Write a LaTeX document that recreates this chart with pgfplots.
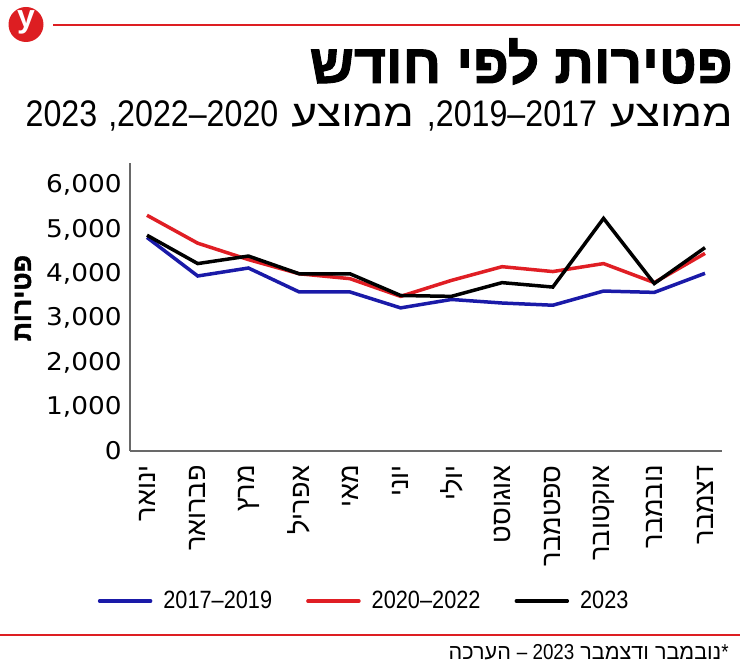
\documentclass[border=0pt]{standalone}
\usepackage{pgfplots}
\pgfplotsset{compat=1.18}
\usepackage{pgfplotstable}
\usepackage{fontspec}
\setmainfont{Liberation Sans}
\TeXXeTstate=1
\newfontfamily\heb[Script=Hebrew, BoldFeatures={FakeBold=1.8}]{Liberation Sans}
\newfontfamily\hebw[Script=Hebrew, FakeStretch=1.2]{Liberation Sans}
\newfontfamily\latn[FakeStretch=0.87]{Liberation Sans}
\newfontfamily\ticks[FakeStretch=1.08]{DejaVu Sans}
\definecolor{lineblue}{RGB}{26,26,168}
\definecolor{linered}{RGB}{224,30,36}
\definecolor{ynet}{RGB}{221,30,34}
\definecolor{axisgray}{RGB}{105,105,105}
\newcommand\rtl[1]{\beginR #1\endR}

% monthly deaths: 2017-2019 avg, 2020-2022 avg, 2023
\pgfplotstableread{
month avgA avgB yr
0  4820 5320 4870
1  3950 4690 4230
2  4130 4320 4400
3  3590 4000 4000
4  3590 3890 4000
5  3230 3490 3510
6  3420 3850 3490
7  3340 4160 3800
8  3290 4050 3700
9  3610 4230 5250
10 3580 3800 3780
11 4010 4460 4590
}\deaths

\begin{document}
\begin{tikzpicture}
\begin{scope}[x=0.5pt,y=-0.5pt]
\path[use as bounding box, fill=white] (0,0) rectangle (740,672);
\fill[ynet] (26,24.5) circle[radius=17.5];
\node[text=white, font=\fontsize{16}{16}\selectfont\bfseries, inner sep=0pt] at (26,22.5) {y};
\draw[ynet, line width=1pt] (53,25) -- (740,25);
\node[anchor=base east, inner sep=0pt, font=\heb\bfseries\fontsize{27.5}{30}\selectfont] at (733,83) {\rtl{פטירות לפי חודש}};
\node[anchor=base east, inner sep=0pt, font=\fontsize{18.5}{20}\selectfont] at (733,126.7)
  {{\latn 2023\hspace{5.5pt},2022–2020}\hspace{6.5pt}{\hebw\rtl{ממוצע}}\hspace{6.5pt}{\latn ,2019–2017}\hspace{6.5pt}{\hebw\rtl{ממוצע}}};
\draw[ynet, line width=1pt] (0,635) -- (740,635);
\node[anchor=base east, inner sep=0pt, font=\fontsize{10.8}{12}\selectfont] at (729,660)
  {{\heb\rtl{הערכה}} {\latn – 2023} {\heb\rtl{ודצמבר}} {\heb\rtl{נובמבר}}{\latn *}};
\end{scope}

\begin{axis}[
  at={(65pt,-225.5pt)}, anchor=south west,
  scale only axis, width=296pt, height=144pt,
  xmin=-0.335, xmax=11.335, ymin=0, ymax=6500,
  axis lines*=left,
  axis line style={draw=axisgray, line width=0.6pt},
  major tick length=0pt,
  xtick={0,...,11},
  xticklabels={\rtl{ינואר},\rtl{פברואר},\rtl{מרץ},\rtl{אפריל},\rtl{מאי},\rtl{יוני},\rtl{יולי},\rtl{אוגוסט},\rtl{ספטמבר},\rtl{אוקטובר},\rtl{נובמבר},\rtl{דצמבר}},
  xticklabel style={rotate=90, anchor=east, inner sep=0pt, font=\heb\fontsize{13.5}{14}\selectfont},
  xticklabel shift=7pt,
  ytick={0,1000,...,6000},
  yticklabel style={inner sep=0pt, font=\ticks\fontsize{12.2}{13}\selectfont,
    /pgf/number format/assume math mode=true, /pgf/number format/1000 sep={,}},
  yticklabel shift=4pt,
  ylabel={\rtl{פטירות}},
  ylabel style={at={(axis description cs:-0.181,0.531)}, anchor=center,
    font=\heb\bfseries\fontsize{13.3}{14}\selectfont},
  every axis plot/.append style={line width=1.75pt},
  legend columns=3,
  legend style={at={(axis description cs:-0.055,-0.521)}, anchor=west, draw=none, fill=none,
    inner sep=0pt, font=\latn\fontsize{12.5}{14}\selectfont, nodes={inner sep=0pt},
    /tikz/every odd column/.append style={column sep=5.5pt},
    /tikz/every even column/.append style={column sep=17pt}},
  legend image code/.code={\draw[#1, line cap=round] (0pt,0pt) -- (25.5pt,0pt);},
]
\addplot[lineblue] table[x=month, y=avgA] {\deaths};
\addlegendentry{2017–2019}
\addplot[linered] table[x=month, y=avgB] {\deaths};
\addlegendentry{2020–2022}
\addplot[black] table[x=month, y=yr] {\deaths};
\addlegendentry{2023}
\end{axis}
\end{tikzpicture}
\end{document}
